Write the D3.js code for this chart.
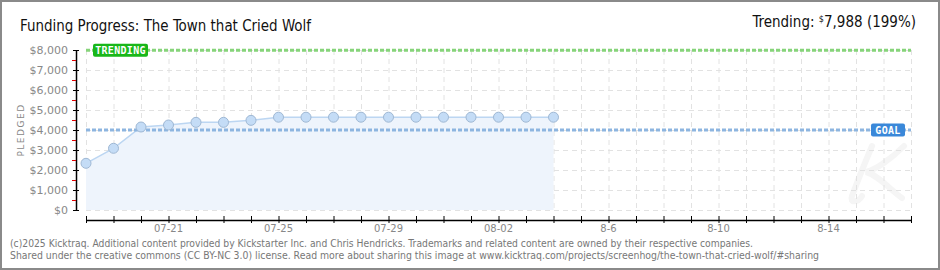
<!DOCTYPE html>
<html><head><meta charset="utf-8">
<script src="https://cdn.jsdelivr.net/npm/d3@7"></script>
<style>
html,body{margin:0;padding:0;background:#fff;}
svg{display:block;}
</style></head>
<body>
<script>
const dates = ["2025-07-18","2025-07-19","2025-07-20","2025-07-21","2025-07-22","2025-07-23","2025-07-24","2025-07-25","2025-07-26","2025-07-27","2025-07-28","2025-07-29","2025-07-30","2025-07-31","2025-08-01","2025-08-02","2025-08-03","2025-08-04"];
const pledged = [2335,3085,4150,4250,4383,4383,4483,4640,4640,4640,4640,4640,4640,4640,4640,4640,4640,4640];
const goal = 4000;
const trending = 7988;
const xDomain = ["2025-07-18","2025-08-17"];
const yTicks = [0,1000,2000,3000,4000,5000,6000,7000,8000];
const xTickLabels = [["2025-07-21","07-21"],["2025-07-25","07-25"],["2025-07-29","07-29"],["2025-08-02","08-02"],["2025-08-06","8-6"],["2025-08-10","8-10"],["2025-08-14","8-14"]];
const titleText = "Funding Progress: The Town that Cried Wolf";
const footer = ["(c)2025 Kicktraq. Additional content provided by Kickstarter Inc. and Chris Hendricks. Trademarks and related content are owned by their respective companies.",
"Shared under the creative commons (CC BY-NC 3.0) license. Read more about sharing this image at www.kicktraq.com/projects/screenhog/the-town-that-cried-wolf/#sharing"];

const W=940,H=270;
const parse=d3.utcParse("%Y-%m-%d");
const svg=d3.select("body").append("svg").attr("width",W).attr("height",H);
svg.append("rect").attr("x",1).attr("y",1).attr("width",W-2).attr("height",H-2).attr("fill","#fff").attr("stroke","#8a8a8a").attr("stroke-width",2);

const x=d3.scaleUtc().domain(xDomain.map(parse)).range([86,911]);
const y=d3.scaleLinear().domain([0,8000]).range([210,50]);

// watermark K (faint path)
svg.append("path")
 .attr("d","M872,146 C864,165 858,180 852,196 C849,203 858,203 862,196 M904,146 C890,160 875,170 866,172 C880,176 890,190 902,198")
 .attr("fill","none").attr("stroke","#f5f5f5").attr("stroke-width",6).attr("stroke-linecap","round");

// grid
const days=d3.utcDay.range(parse(xDomain[0]),d3.utcDay.offset(parse(xDomain[1]),1));
svg.append("g").selectAll("line").data(days).join("line")
 .attr("x1",d=>x(d)+0.5).attr("x2",d=>x(d)+0.5).attr("y1",50).attr("y2",210)
 .attr("stroke","#e2e2e2").attr("stroke-dasharray","5,4");
svg.append("g").selectAll("line").data(yTicks).join("line")
 .attr("x1",86).attr("x2",911).attr("y1",d=>y(d)+0.5).attr("y2",d=>y(d)+0.5)
 .attr("stroke","#e2e2e2").attr("stroke-dasharray","5,4");

const data=dates.map((d,i)=>({d:parse(d),v:pledged[i]}));
// area
svg.append("path").datum(data)
 .attr("d",d3.area().x(d=>x(d.d)).y0(y(0)).y1(d=>y(d.v)))
 .attr("fill","#eef4fc");
svg.append("path").datum(data)
 .attr("d",d3.line().x(d=>x(d.d)).y(d=>y(d.v)))
 .attr("fill","none").attr("stroke","#bcd6f2").attr("stroke-width",1.5);

// goal line
svg.append("line").attr("x1",86).attr("x2",911).attr("y1",y(goal)).attr("y2",y(goal))
 .attr("stroke","#8db5e0").attr("stroke-width",3).attr("stroke-dasharray","4,2");
// trending line
svg.append("line").attr("x1",86).attr("x2",911).attr("y1",y(trending)).attr("y2",y(trending))
 .attr("stroke","#86d47a").attr("stroke-width",3).attr("stroke-dasharray","4,2");

// points
svg.append("g").selectAll("circle").data(data).join("circle")
 .attr("cx",d=>x(d.d)).attr("cy",d=>y(d.v)).attr("r",5)
 .attr("fill","#c4dcf6").attr("stroke","#9fb8d4").attr("stroke-width",1);

// labels
function badge(cx,yc,w,fill,label){
 svg.append("rect").attr("x",cx).attr("y",yc-6.5).attr("width",w).attr("height",13).attr("rx",2)
  .attr("fill",fill);
 svg.append("text").attr("x",cx+w/2).attr("y",yc+4).attr("text-anchor","middle")
  .attr("font-family","DejaVu Sans Mono").attr("font-weight","bold").attr("font-size",10)
  .attr("fill","#fff").attr("letter-spacing",0.3).text(label);
}
badge(93,y(trending),55,"#19b719","TRENDING");
badge(871,y(goal),34,"#3a88d9","GOAL");

// y axis
svg.append("line").attr("x1",76.5).attr("x2",76.5).attr("y1",50).attr("y2",210).attr("stroke","#000").attr("stroke-width",1.5);
svg.append("g").selectAll("line").data(d3.range(500,8000,1000)).join("line")
 .attr("x1",72).attr("x2",76).attr("y1",d=>y(d)+0.5).attr("y2",d=>y(d)+0.5).attr("stroke","#e00000");
svg.append("g").selectAll("line").data(yTicks).join("line")
 .attr("x1",73).attr("x2",79).attr("y1",d=>y(d)+0.5).attr("y2",d=>y(d)+0.5).attr("stroke","#000");
svg.append("g").selectAll("text").data(yTicks).join("text")
 .attr("x",68).attr("y",d=>y(d)+4).attr("text-anchor","end")
 .attr("font-family","DejaVu Sans").attr("font-size",11).attr("fill","#888")
 .text(d=>"$"+d3.format(",")(d));
svg.append("text").attr("transform","translate(24,130) rotate(-90)").attr("text-anchor","middle")
 .attr("font-family","DejaVu Sans").attr("font-size",9).attr("letter-spacing",1.5).attr("fill","#888").text("PLEDGED");

// x axis
const xAxis=d3.axisBottom(x).tickValues(days).tickSize(0).tickFormat("");
const gx=svg.append("g").attr("transform","translate(0,220)").call(xAxis);
gx.select(".domain").attr("stroke","#000").attr("stroke-width",1.5);
gx.selectAll(".tick line").remove();
svg.append("g").selectAll("line").data(days).join("line")
 .attr("x1",d=>x(d)+0.5).attr("x2",d=>x(d)+0.5).attr("y1",216).attr("y2",223).attr("stroke","#000");
svg.append("g").selectAll("text").data(xTickLabels).join("text")
 .attr("x",d=>x(parse(d[0]))).attr("y",232).attr("text-anchor","middle")
 .attr("font-family","DejaVu Sans").attr("font-size",10).attr("fill","#888").text(d=>d[1]);

// title
svg.append("text").attr("x",20).attr("y",31).attr("font-family","DejaVu Sans Condensed").attr("font-size",16)
 .attr("fill","#111").attr("textLength",291).attr("lengthAdjust","spacingAndGlyphs").text(titleText);
const tr=svg.append("text").attr("x",916).attr("y",27).attr("text-anchor","end").attr("font-family","DejaVu Sans Condensed").attr("font-size",15).attr("fill","#111");
tr.append("tspan").text("Trending:  ");
tr.append("tspan").attr("font-size",9).attr("dy",-5).text("$");
tr.append("tspan").attr("dy",5).text("7,988 (199%)");

const fl=[743,809];
svg.append("g").selectAll("text").data(footer).join("text")
 .attr("x",10).attr("y",(d,i)=>247+i*12).attr("font-family","DejaVu Sans").attr("font-size",10)
 .attr("textLength",(d,i)=>fl[i]).attr("lengthAdjust","spacingAndGlyphs").attr("fill","#777").text(d=>d);
</script>
</body></html>
